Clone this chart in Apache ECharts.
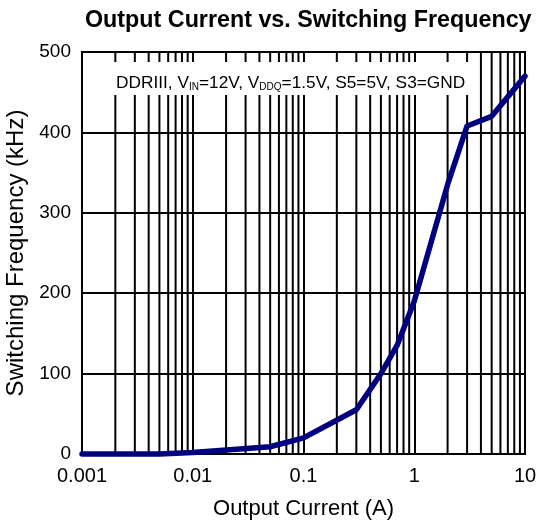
<!DOCTYPE html>
<html>
<head>
<meta charset="utf-8">
<script src="https://cdn.jsdelivr.net/npm/echarts@6/dist/echarts.min.js"></script>
<style>html,body{margin:0;padding:0;background:#fff}#c{width:537px;height:521px}</style>
</head>
<body>
<div id="c"></div>
<script>
// Data
var currentA = [0.001, 0.002, 0.005, 0.01, 0.05, 0.1, 0.3, 0.5, 0.7, 1, 2, 3, 5, 10];
var freqKHz  = [0, 0, 0, 2, 9, 20, 55, 100, 135, 190, 335, 408, 420, 470];
var xTickLabels = ['0.001', '0.01', '0.1', '1', '10'];
var yMin = 0, yMax = 500, yStep = 100;
var decades = [0.001, 0.01, 0.1, 1];
var minorMult = [2, 3, 4, 5, 6, 7, 8, 9];

var minorX = [];
decades.forEach(function (d) {
  minorMult.forEach(function (m) { minorX.push([+(d * m).toPrecision(3), yMin]); });
});

var font = 'Liberation Sans, Arial, sans-serif';
var chart = echarts.init(document.getElementById('c'), null, { renderer: 'canvas' });
chart.setOption({
  animation: false,
  backgroundColor: '#fff',
  title: [
    { text: 'Output Current vs. Switching Frequency', left: 85, top: 9, padding: 0,
      textStyle: { fontFamily: font, fontSize: 23.3, fontWeight: 'bold', color: '#000' } },
    { text: 'DDRIII, V{s|IN}=12V, V{s|DDQ}=1.5V, S5=5V, S3=GND', left: 111, top: 62,
      padding: [13, 4, 3, 5], backgroundColor: '#fff', z: 10,
      textStyle: { fontFamily: font, fontSize: 17.3, fontWeight: 'normal', color: '#000',
        rich: { s: { fontFamily: font, fontSize: 10, verticalAlign: 'bottom', padding: [7, 0, 0, 0] } } } }
  ],
  grid: { left: 82, right: 12, top: 52, bottom: 67, show: true, borderColor: '#000', borderWidth: 2, z: 0,
    outerBoundsMode: 'none', containLabel: false },
  xAxis: {
    type: 'log', logBase: 10, min: 0.001, max: 10,
    name: 'Output Current (A)', nameLocation: 'middle', nameGap: 44,
    nameTextStyle: { fontFamily: font, fontSize: 22, color: '#000' },
    axisLine: { show: true, lineStyle: { color: '#000', width: 2 } },
    axisTick: { show: false },
    axisLabel: { fontFamily: font, fontSize: 20, color: '#000', margin: 12,
      formatter: function (v) { var s = String(+v.toPrecision(3)); return xTickLabels.indexOf(s) >= 0 ? s : ''; } },
    splitLine: { show: true, lineStyle: { color: '#000', width: 2 } }
  },
  yAxis: {
    type: 'value', min: yMin, max: yMax, interval: yStep,
    name: 'Switching Frequency (kHz)', nameLocation: 'middle', nameGap: 50,
    nameTextStyle: { fontFamily: font, fontSize: 24, color: '#000' },
    axisLine: { show: true, lineStyle: { color: '#000', width: 2 } },
    axisTick: { show: false },
    axisLabel: { fontFamily: font, fontSize: 19, color: '#000', margin: 11 },
    splitLine: { show: true, lineStyle: { color: '#000', width: 2 } }
  },
  series: [
    { type: 'custom', z: 1, silent: true, data: minorX, encode: { x: 0, y: 1 },
      renderItem: function (params, api) {
        var x = api.value(0);
        var p0 = api.coord([x, yMin]);
        var p1 = api.coord([x, yMax]);
        return { type: 'line', shape: { x1: p0[0], y1: p0[1], x2: p1[0], y2: p1[1] },
          style: { stroke: '#000', lineWidth: 2 } };
      } },
    { type: 'line', z: 5, clip: false, showSymbol: false, symbol: 'none',
      data: currentA.map(function (x, i) { return [x, freqKHz[i]]; }),
      lineStyle: { color: '#000080', width: 5.5, cap: 'round', join: 'round' } }
  ]
});
</script>
</body>
</html>
